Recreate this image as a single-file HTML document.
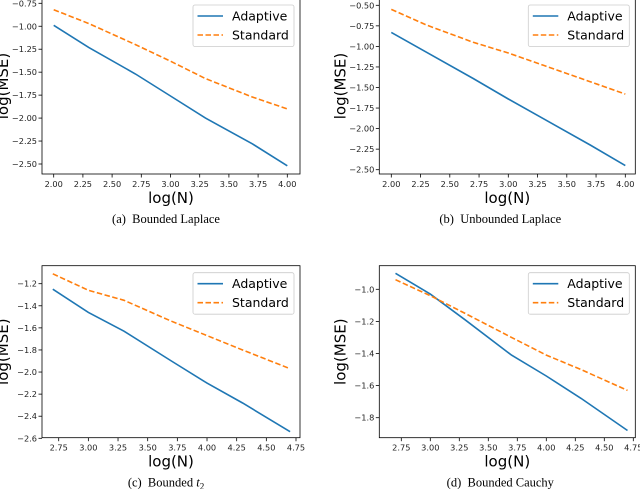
<!DOCTYPE html>
<html><head><meta charset="utf-8"><style>
body{margin:0;background:#fff;width:640px;height:489px;overflow:hidden}
svg text{font-family:"DejaVu Sans","Liberation Sans",sans-serif}
</style></head><body>
<svg id="fig" width="640" height="489" xmlns="http://www.w3.org/2000/svg"></svg>
<script>
const xsA = [2, 2.3, 2.7, 3, 3.3, 3.7, 4];
const xsC = [2.7, 3, 3.3, 3.7, 4, 4.3, 4.7];
const adaptiveA = [-0.99, -1.23, -1.52, -1.76, -2.0, -2.28, -2.52];
const standardA = [-0.82, -0.97, -1.2, -1.38, -1.57, -1.77, -1.9];
const adaptiveB = [-0.83, -1.07, -1.39, -1.64, -1.88, -2.2, -2.45];
const standardB = [-0.55, -0.74, -0.95, -1.08, -1.23, -1.43, -1.58];
const adaptiveC = [-1.25, -1.46, -1.63, -1.9, -2.1, -2.28, -2.54];
const standardC = [-1.11, -1.26, -1.35, -1.54, -1.67, -1.8, -1.97];
const adaptiveD = [-0.90, -1.03, -1.19, -1.41, -1.54, -1.68, -1.88];
const standardD = [-0.94, -1.04, -1.15, -1.30, -1.41, -1.50, -1.63];
const xTicksAB = ["2.00","2.25","2.50","2.75","3.00","3.25","3.50","3.75","4.00"];
const xTicksCD = ["2.75","3.00","3.25","3.50","3.75","4.00","4.25","4.50","4.75"];
const yTicksA = ["-0.75","-1.00","-1.25","-1.50","-1.75","-2.00","-2.25","-2.50"];
const yTicksB = ["-0.50","-0.75","-1.00","-1.25","-1.50","-1.75","-2.00","-2.25","-2.50"];
const yTicksC = ["-1.2","-1.4","-1.6","-1.8","-2.0","-2.2","-2.4","-2.6"];
const yTicksD = ["-1.0","-1.2","-1.4","-1.6","-1.8"];

const NS="http://www.w3.org/2000/svg";
const svg=document.getElementById('fig');
function mk(tag,attrs,parent,text){const e=document.createElementNS(NS,tag);for(const k in attrs)e.setAttribute(k,attrs[k]);if(text!==undefined)e.textContent=text;(parent||svg).appendChild(e);return e;}

function panel(p){
  const g=mk('g',{});
  
  
  const sx=v=>p.x0px+(v-p.x0)*(p.x1px-p.x0px)/(p.x1-p.x0);
  const sy=v=>p.y0px+(v-p.y0)*(p.y1px-p.y0px)/(p.y1-p.y0);
  p.xt.forEach(t=>{const v=parseFloat(t),X=sx(v);
    mk('line',{x1:X,x2:X,y1:p.B,y2:p.B+3.5,stroke:'#000','stroke-width':0.8},g);
    const tx=mk('text',{x:X,y:p.B+13,'font-size':8.2,'text-anchor':'middle',fill:'#222'},g,t);
    
    });
  p.yt.forEach(t=>{const v=parseFloat(t),Y=sy(v);
    mk('line',{x1:p.L-3.5,x2:p.L,y1:Y,y2:Y,stroke:'#000','stroke-width':0.8},g);
    const tx=mk('text',{x:p.L-5,y:Y+3,'font-size':8.2,'text-anchor':'end',fill:'#222'},g,t.replace('-','\u2212'));
    
    });
  const mkline=(ys,col,dash,name)=>{
    const pts=p.xs.map((x,i)=>sx(x).toFixed(1)+','+sy(ys[i]).toFixed(1)).join(' ');
    const l=mk('polyline',{points:pts,fill:'none',stroke:col,'stroke-width':1.6,'stroke-dasharray':dash},g);
    
    };
  mkline(p.ad,'#1f77b4','none','adaptive-line');
  mkline(p.st,'#ff7f0e','5.5,2.5','standard-line');
  const fr=mk('rect',{x:p.L,y:p.T,width:p.R-p.L,height:p.B-p.T,fill:'none',stroke:'#000','stroke-width':0.8},g);
  
  
  const lg=mk('g',{},g);
  
  
  const lx=p.R-107, ly=p.T+7;
  mk('rect',{x:lx,y:ly,width:101,height:41.5,rx:2,fill:'#fff',stroke:'#ccc','stroke-width':0.8},lg);
  mk('line',{x1:lx+4.5,x2:lx+30,y1:ly+11,y2:ly+11,stroke:'#1f77b4','stroke-width':1.6},lg);
  mk('line',{x1:lx+4.5,x2:lx+30,y1:ly+30,y2:ly+30,stroke:'#ff7f0e','stroke-width':1.6,'stroke-dasharray':'5.5,2.5'},lg);
  const e1=mk('text',{x:lx+39,y:ly+15.5,'font-size':12.5,fill:'#000'},lg,'Adaptive');
  
  
  const e2=mk('text',{x:lx+39,y:ly+34.5,'font-size':12.5,fill:'#000'},lg,'Standard');
  
  
  const xl=mk('text',{x:(p.L+p.R)/2,y:p.B+29,'font-size':15,'text-anchor':'middle'},g,'log(N)');
  
  
  const yx=p.L-34, yy=(p.T+p.B)/2;
  const yl=mk('text',{x:yx,y:yy,'font-size':15,'text-anchor':'middle',transform:`rotate(-90 ${yx} ${yy})`},g,'log(MSE)');
  
  
  const cap=mk('text',{x:(p.L+p.R)/2+p.capdx,y:p.B+49,'font-size':12.5,'text-anchor':'middle',style:'font-family:"Liberation Serif",serif'},g);
  cap.innerHTML=p.cap;
  
  
}
panel({id:'a',L:42,R:300,T:-2,B:174,x0:2,x1:4,x0px:53.7,x1px:287.3,y0:-0.75,y1:-2.5,y0px:3.3,y1px:164,xs:xsA,ad:adaptiveA,st:standardA,xt:xTicksAB,yt:yTicksA,cap:'(a)&#160; Bounded Laplace',capdx:-5});
panel({id:'b',L:379.3,R:635.3,T:-2,B:174,x0:2,x1:4,x0px:391.3,x1px:625.3,y0:-0.5,y1:-2.5,y0px:5.3,y1px:169.7,xs:xsA,ad:adaptiveB,st:standardB,xt:xTicksAB,yt:yTicksB,cap:'(b)&#160; Unbounded Laplace',capdx:-7});
panel({id:'c',L:42,R:300,T:265.7,B:437.7,x0:2.75,x1:4.75,x0px:58.7,x1px:296,y0:-1.2,y1:-2.6,y0px:283.7,y1px:438.3,xs:xsC,ad:adaptiveC,st:standardC,xt:xTicksCD,yt:yTicksC,cap:'(c)&#160; Bounded <tspan font-style="italic">t</tspan><tspan font-size="9" dy="3">2</tspan>',capdx:-5});
panel({id:'d',L:379.3,R:635.3,T:265.7,B:437.7,x0:2.75,x1:4.75,x0px:401.3,x1px:633.3,y0:-1.0,y1:-1.8,y0px:289.3,y1px:417.7,xs:xsC,ad:adaptiveD,st:standardD,xt:xTicksCD,yt:yTicksD,cap:'(d)&#160; Bounded Cauchy',capdx:-7});
</script>
</body></html>
